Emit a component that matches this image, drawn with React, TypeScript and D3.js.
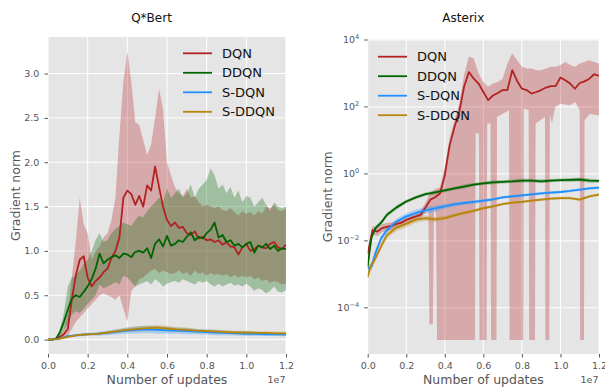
import React, { useEffect, useRef } from "react";
import * as d3 from "d3";

const seriesNames = ["DQN", "DDQN", "S-DQN", "S-DDQN"];
const seriesColors = ["#b22222", "#006400", "#1e90ff", "#b8860b"];
const xTicks = [0, 0.2, 0.4, 0.6, 0.8, 1.0, 1.2]; // number of updates, x 1e7

// ---- Q*Bert (updates in units of 1e7) ----
const qbertSteps = d3.range(61).map(i => i * 0.02);
const qbertDqn = [
  0.0, 0.0, 0.01, 0.03, 0.06, 0.12, 0.45, 0.72, 0.9, 0.94,
  0.7, 0.6, 0.66, 0.7, 0.76, 0.8, 0.92, 1.0, 1.15, 1.6,
  1.68, 1.64, 1.52, 1.62, 1.5, 1.74, 1.68, 1.95, 1.72, 1.5,
  1.35, 1.28, 1.32, 1.26, 1.27, 1.2, 1.18, 1.22, 1.14, 1.16,
  1.12, 1.13, 1.1, 1.12, 1.07, 1.1, 1.05, 1.04, 0.96, 1.04,
  1.08, 1.0, 1.02, 1.06, 1.04, 1.03, 1.08, 1.1, 1.04, 1.02, 1.07,
];
const qbertDqnHi = [
  0.0, 0.0, 0.02, 0.05, 0.1, 0.3, 0.7, 1.1, 1.6, 1.3,
  1.2, 0.9, 1.0, 1.05, 1.15, 1.2, 1.35, 1.6, 2.3, 2.9,
  3.25, 2.9, 2.45, 2.42, 2.25, 2.08, 2.2, 2.5, 2.83, 2.6,
  2.0, 1.85, 1.72, 1.65, 1.62, 1.7, 1.6, 1.62, 1.55, 1.5,
  1.52, 1.5, 1.48, 1.5, 1.46, 1.45, 1.48, 1.44, 1.4, 1.45,
  1.42, 1.44, 1.4, 1.45, 1.42, 1.5, 1.48, 1.52, 1.46, 1.45, 1.48,
];
const qbertDqnLo = [
  0.0, 0.0, 0.0, 0.01, 0.02, 0.04, 0.12, 0.2, 0.25, 0.3,
  0.35, 0.4, 0.45, 0.5, 0.52, 0.5, 0.48, 0.45, 0.5, 0.35,
  0.2, 0.55, 0.6, 0.68, 0.7, 0.74, 0.78, 0.8, 0.75, 0.78,
  0.76, 0.74, 0.75, 0.78, 0.74, 0.76, 0.72, 0.78, 0.74, 0.76,
  0.72, 0.75, 0.73, 0.74, 0.72, 0.74, 0.7, 0.73, 0.7, 0.72,
  0.7, 0.72, 0.68, 0.7, 0.66, 0.68, 0.64, 0.66, 0.65, 0.62, 0.63,
];
const qbertDdqn = [
  0.0, 0.0, 0.01, 0.08, 0.2, 0.34, 0.46, 0.5, 0.48, 0.54,
  0.6, 0.68, 0.8, 0.97, 0.86, 0.9, 0.93, 0.95, 0.92, 0.97,
  0.96, 0.93, 0.99, 1.0, 0.98, 1.03, 0.92, 1.08, 1.13, 1.05,
  1.17, 1.06, 1.08, 1.12, 1.1, 1.16, 1.21, 1.12, 1.16, 1.14,
  1.2, 1.24, 1.32, 1.15, 1.18, 1.1, 1.12, 1.06, 1.08, 1.04,
  1.08, 1.1, 0.98, 1.06, 1.04, 1.08, 1.02, 1.06, 1.0, 1.03, 1.02,
];
const qbertDdqnHi = [
  0.0, 0.0, 0.02, 0.12, 0.3, 0.6, 0.7, 0.72, 0.78, 0.85,
  0.9, 1.0, 1.12, 1.2, 1.1, 1.12, 1.2, 1.25, 1.28, 1.32,
  1.3, 1.28, 1.35, 1.4, 1.38, 1.45, 1.5, 1.55, 1.6, 1.55,
  1.7, 1.6, 1.65, 1.7, 1.6, 1.65, 1.75, 1.6, 1.7, 1.75,
  1.8, 1.93, 1.85, 1.7, 1.75, 1.65, 1.72, 1.6, 1.68, 1.55,
  1.62, 1.6, 1.5, 1.55, 1.6, 1.52, 1.45, 1.55, 1.5, 1.48, 1.5,
];
const qbertDdqnLo = [
  0.0, 0.0, 0.0, 0.03, 0.1, 0.18, 0.28, 0.32, 0.3, 0.35,
  0.4, 0.45, 0.5, 0.62, 0.58, 0.6, 0.62, 0.65, 0.62, 0.72,
  0.7, 0.65, 0.6, 0.62, 0.64, 0.66, 0.62, 0.68, 0.65, 0.6,
  0.63, 0.65, 0.66, 0.64, 0.68, 0.66, 0.64, 0.62, 0.66, 0.64,
  0.66, 0.62, 0.6, 0.63, 0.6, 0.62, 0.64, 0.61, 0.62, 0.6,
  0.63, 0.6, 0.55, 0.58, 0.56, 0.52, 0.55, 0.6, 0.54, 0.53, 0.56,
];
const qbertSmallSteps = d3.range(25).map(i => i * 0.05);
const qbertSDqn = [0, 0.005, 0.04, 0.05, 0.06, 0.065, 0.075, 0.09, 0.1, 0.11, 0.115, 0.11, 0.105, 0.1, 0.095, 0.09, 0.085, 0.08, 0.075, 0.07, 0.065, 0.065, 0.06, 0.06, 0.055];
const qbertSDqnSpread = [0, 0.005, 0.01, 0.015, 0.015, 0.02, 0.025, 0.03, 0.035, 0.04, 0.04, 0.04, 0.04, 0.035, 0.035, 0.03, 0.03, 0.03, 0.025, 0.025, 0.025, 0.025, 0.02, 0.02, 0.02];
const qbertSDdqn = [0, 0.005, 0.03, 0.05, 0.06, 0.065, 0.08, 0.095, 0.11, 0.12, 0.13, 0.135, 0.125, 0.115, 0.11, 0.1, 0.095, 0.09, 0.085, 0.08, 0.08, 0.075, 0.075, 0.07, 0.07];
const qbertSDdqnSpread = [0, 0.005, 0.01, 0.01, 0.01, 0.015, 0.015, 0.02, 0.025, 0.03, 0.03, 0.03, 0.03, 0.025, 0.025, 0.02, 0.02, 0.02, 0.02, 0.02, 0.02, 0.02, 0.02, 0.02, 0.02];
const qbertYTicks = [0, 0.5, 1.0, 1.5, 2.0, 2.5, 3.0];

// ---- Asterix ----
const asterixDqnSteps = d3.range(49).map(i => i * 0.025);
const asterixDqn = [
  0.004, 0.021, 0.019, 0.024, 0.026, 0.028, 0.032, 0.035, 0.042, 0.048,
  0.054, 0.06, 0.1, 0.17, 0.2, 0.26, 0.9, 7, 25, 70,
  400, 1100, 700, 500, 280, 160, 220, 260, 320, 320,
  1250, 600, 350, 320, 250, 280, 320, 380, 420, 420,
  760, 630, 500, 350, 520, 580, 700, 950, 850,
];
const asterixDqnHi = [
  0.0056, 0.028, 0.025, 0.032, 0.034, 0.036, 0.04, 0.045, 0.052, 0.06,
  0.068, 0.08, 0.14, 0.28, 0.35, 0.4, 1.6, 12, 40, 125,
  900, 3200, 2800, 1000, 560, 400, 500, 560, 700, 2000,
  4000, 2500, 1600, 1400, 1400, 1250, 1250, 1400, 1600, 1600,
  1800, 2200, 1800, 1600, 2000, 2200, 2500, 2200, 2000,
];
const asterixDqnLoSteps = [
  0, 0.025, 0.05, 0.075, 0.1, 0.125, 0.15, 0.175, 0.2, 0.225, 0.25, 0.275, 0.3,
  0.315, 0.32, 0.338, 0.344, 0.354, 0.36,
  0.557, 0.56, 0.577, 0.58, 0.617, 0.62, 0.637, 0.64, 0.668, 0.671, 0.733, 0.736,
  0.807, 0.81, 0.835, 0.838, 0.868, 0.871, 0.92, 0.922, 0.942, 0.945, 0.956, 0.972,
  1.0, 1.05, 1.076, 1.1, 1.102, 1.122, 1.125, 1.153, 1.2,
];
const asterixDqnLo = [
  0.0028, 0.016, 0.014, 0.018, 0.02, 0.021, 0.024, 0.027, 0.032, 0.036, 0.042, 0.047, 0.071,
  0.1, 3.2e-5, 3.2e-5, 0.1, 0.063, 1.1e-5,
  1.1e-5, 16, 16, 1.1e-5, 1.1e-5, 32, 32, 1.1e-5, 1.1e-5, 50, 80, 1.1e-5,
  1.1e-5, 90, 80, 1.1e-5, 1.1e-5, 32, 50, 1.1e-5, 1.1e-5, 63, 32, 100,
  125, 112, 140, 80, 1.1e-5, 1.1e-5, 40, 63, 56,
];
const asterixSteps = [0, 0.01, 0.02, 0.04, 0.07, 0.1, 0.15, 0.2, 0.25, 0.3, 0.35, 0.4, 0.45, 0.5, 0.55, 0.6, 0.65, 0.7, 0.75, 0.8, 0.85, 0.9, 0.95, 1.0, 1.05, 1.1, 1.15, 1.2];
const asterixDdqn = [0.0017, 0.005, 0.0126, 0.024, 0.035, 0.06, 0.1, 0.15, 0.2, 0.25, 0.28, 0.32, 0.37, 0.42, 0.48, 0.52, 0.56, 0.58, 0.6, 0.63, 0.63, 0.6, 0.63, 0.65, 0.66, 0.68, 0.63, 0.62];
const asterixDdqnSpread = [0.12, 0.1, 0.08, 0.07, 0.06, 0.06, 0.06, 0.05, 0.05, 0.05, 0.06, 0.05, 0.05, 0.06, 0.05, 0.05, 0.06, 0.05, 0.05, 0.06, 0.05, 0.06, 0.05, 0.05, 0.06, 0.05, 0.06, 0.05];
const asterixSDqn = [0.0015, 0.0016, 0.0017, 0.0043, 0.012, 0.021, 0.038, 0.054, 0.068, 0.081, 0.093, 0.107, 0.123, 0.135, 0.145, 0.158, 0.174, 0.2, 0.214, 0.229, 0.245, 0.263, 0.275, 0.288, 0.309, 0.339, 0.372, 0.389];
const asterixSDqnSpread = [0.1, 0.1, 0.1, 0.09, 0.08, 0.08, 0.08, 0.09, 0.1, 0.1, 0.09, 0.07, 0.06, 0.05, 0.05, 0.05, 0.04, 0.04, 0.04, 0.04, 0.04, 0.04, 0.04, 0.04, 0.04, 0.04, 0.04, 0.04];
const asterixSDdqn = [0.00085, 0.0014, 0.0019, 0.003, 0.0071, 0.0148, 0.025, 0.032, 0.043, 0.048, 0.044, 0.048, 0.058, 0.068, 0.079, 0.095, 0.107, 0.126, 0.138, 0.145, 0.158, 0.17, 0.182, 0.19, 0.19, 0.17, 0.214, 0.24];
const asterixSDdqnSpread = [0.12, 0.12, 0.12, 0.1, 0.1, 0.1, 0.1, 0.1, 0.09, 0.08, 0.07, 0.06, 0.05, 0.05, 0.05, 0.05, 0.04, 0.04, 0.04, 0.04, 0.04, 0.04, 0.04, 0.04, 0.04, 0.04, 0.04, 0.04];
const asterixYExps = [-4, -2, 0, 2, 4];

const FONT = "DejaVu Sans, sans-serif";
const GREY = "#555555";

const sym = (m, s) => ({ lo: m.map((v, i) => v - s[i]), hi: m.map((v, i) => v + s[i]) });
const logSym = (m, s) => ({ lo: m.map((v, i) => v / 10 ** s[i]), hi: m.map((v, i) => v * 10 ** s[i]) });

const qS = sym(qbertSDqn, qbertSDqnSpread);
const qSD = sym(qbertSDdqn, qbertSDdqnSpread);
const aD = logSym(asterixDdqn, asterixDdqnSpread);
const aS = logSym(asterixSDqn, asterixSDqnSpread);
const aSD = logSym(asterixSDdqn, asterixSDdqnSpread);

const panels = [
  {
    id: "qbert", title: "Q*Bert", titleX: 151.5, left: 48, right: 286, top: 37, bottom: 354,
    log: false, yDomain: [-0.1625, 3.4125], yLabelX: 15.5, legend: { x: 183, y: 53.3 },
    series: [
      { xs: qbertSteps, mean: qbertDqn, hiX: qbertSteps, hi: qbertDqnHi, loX: qbertSteps, lo: qbertDqnLo },
      { xs: qbertSteps, mean: qbertDdqn, hiX: qbertSteps, hi: qbertDdqnHi, loX: qbertSteps, lo: qbertDdqnLo },
      { xs: qbertSmallSteps, mean: qbertSDqn, hiX: qbertSmallSteps, hi: qS.hi, loX: qbertSmallSteps, lo: qS.lo },
      { xs: qbertSmallSteps, mean: qbertSDdqn, hiX: qbertSmallSteps, hi: qSD.hi, loX: qbertSmallSteps, lo: qSD.lo },
    ],
  },
  {
    id: "asterix", title: "Asterix", titleX: 463.3, left: 367.7, right: 599, top: 39.5, bottom: 354,
    log: true, yDomain: [10 ** -5.38, 10 ** 4.015], yLabelX: 327.5, legend: { x: 378, y: 56.7 },
    series: [
      { xs: asterixDqnSteps, mean: asterixDqn, hiX: asterixDqnSteps, hi: asterixDqnHi, loX: asterixDqnLoSteps, lo: asterixDqnLo },
      { xs: asterixSteps, mean: asterixDdqn, hiX: asterixSteps, hi: aD.hi, loX: asterixSteps, lo: aD.lo },
      { xs: asterixSteps, mean: asterixSDqn, hiX: asterixSteps, hi: aS.hi, loX: asterixSteps, lo: aS.lo },
      { xs: asterixSteps, mean: asterixSDdqn, hiX: asterixSteps, hi: aSD.hi, loX: asterixSteps, lo: aSD.lo },
    ],
  },
];

function drawPanel(svg, p) {
  const x = d3.scaleLinear().domain([0, 1.2]).range([p.left, p.right]);
  const y = (p.log ? d3.scaleLog() : d3.scaleLinear()).domain(p.yDomain).range([p.bottom, p.top]);
  const g = svg.append("g");

  g.append("rect")
    .attr("x", p.left).attr("y", p.top)
    .attr("width", p.right - p.left).attr("height", p.bottom - p.top)
    .attr("fill", "#e5e5e5");

  const yTickVals = p.log ? asterixYExps.map(e => 10 ** e) : qbertYTicks;

  // grid
  g.selectAll(".gx").data(xTicks).enter().append("line")
    .attr("x1", d => x(d)).attr("x2", d => x(d))
    .attr("y1", p.top).attr("y2", p.bottom)
    .attr("stroke", "white").attr("stroke-width", 1);
  g.selectAll(".gy").data(yTickVals).enter().append("line")
    .attr("x1", p.left).attr("x2", p.right)
    .attr("y1", d => y(d)).attr("y2", d => y(d))
    .attr("stroke", "white").attr("stroke-width", 1);

  svg.append("clipPath").attr("id", "clip-" + p.id)
    .append("rect")
    .attr("x", p.left).attr("y", p.top)
    .attr("width", p.right - p.left).attr("height", p.bottom - p.top);
  const plot = g.append("g").attr("clip-path", `url(#clip-${p.id})`);

  const line = d3.line().x(d => x(d[0])).y(d => y(d[1]));

  // bands
  p.series.forEach((s, k) => {
    const upper = s.hiX.map((u, i) => [u, s.hi[i]]);
    const lower = s.loX.map((u, i) => [u, s.lo[i]]).reverse();
    plot.append("path")
      .attr("d", line(upper.concat(lower)) + "Z")
      .attr("fill", seriesColors[k])
      .attr("fill-opacity", 0.3)
      .attr("stroke", "none");
  });
  // mean lines
  p.series.forEach((s, k) => {
    plot.append("path")
      .attr("d", line(s.xs.map((u, i) => [u, s.mean[i]])))
      .attr("fill", "none")
      .attr("stroke", seriesColors[k])
      .attr("stroke-width", 1.8)
      .attr("stroke-linejoin", "round");
  });

  // x axis
  const xAxis = g.append("g")
    .attr("transform", `translate(0,${p.bottom})`)
    .call(d3.axisBottom(x).tickValues(xTicks).tickSize(3.5).tickPadding(4.8).tickFormat(d3.format(".1f")));
  xAxis.select(".domain").remove();
  xAxis.selectAll("line").attr("stroke", GREY);
  xAxis.selectAll("text").attr("fill", GREY).style("font-size", "9.5px").style("font-family", FONT);

  // y axis
  if (!p.log) {
    const yAxis = g.append("g")
      .attr("transform", `translate(${p.left},0)`)
      .call(d3.axisLeft(y).tickValues(yTickVals).tickSize(3.5).tickPadding(5.2).tickFormat(d3.format(".1f")));
    yAxis.select(".domain").remove();
    yAxis.selectAll("line").attr("stroke", GREY);
    yAxis.selectAll("text").attr("fill", GREY).style("font-size", "9.5px").style("font-family", FONT);
  } else {
    const ya = g.append("g");
    asterixYExps.forEach(e => {
      const yy = y(10 ** e);
      ya.append("line")
        .attr("x1", p.left - 3.5).attr("x2", p.left)
        .attr("y1", yy).attr("y2", yy)
        .attr("stroke", GREY);
      const t = ya.append("text")
        .attr("x", p.left - 8.4).attr("y", yy + 3.2)
        .attr("text-anchor", "end")
        .attr("fill", GREY)
        .style("font-family", FONT);
      t.append("tspan").style("font-size", "9.5px").text("10");
      t.append("tspan").attr("dy", -4.5).style("font-size", "6.7px")
        .text(e < 0 ? "\u2212" + Math.abs(e) : String(e));
    });
  }

  // labels
  g.append("text")
    .attr("x", (p.left + p.right) / 2).attr("y", 383.5)
    .attr("text-anchor", "middle").attr("fill", GREY)
    .style("font-family", FONT).style("font-size", "12.5px")
    .text("Number of updates");
  g.append("text")
    .attr("x", p.right - 0.5).attr("y", 382.5)
    .attr("text-anchor", "end").attr("fill", GREY)
    .style("font-family", FONT).style("font-size", "9.5px")
    .text("1e7");
  g.append("text")
    .attr("transform", `translate(${p.yLabelX},${(p.top + p.bottom) / 2}) rotate(-90)`)
    .attr("dy", "0.35em")
    .attr("text-anchor", "middle").attr("fill", GREY)
    .style("font-family", FONT).style("font-size", "12.5px")
    .text("Gradient norm");
  g.append("text")
    .attr("x", p.titleX).attr("y", 21.5)
    .attr("text-anchor", "middle").attr("fill", "#111")
    .style("font-family", FONT).style("font-size", "12px")
    .text(p.title);

  // legend
  const lg = g.append("g");
  seriesNames.forEach((name, k) => {
    const ly = p.legend.y + k * 19.5;
    lg.append("line")
      .attr("x1", p.legend.x).attr("x2", p.legend.x + 29)
      .attr("y1", ly).attr("y2", ly)
      .attr("stroke", seriesColors[k]).attr("stroke-width", 1.8);
    lg.append("text")
      .attr("x", p.legend.x + 39).attr("y", ly).attr("dy", "0.36em")
      .attr("fill", "#111")
      .style("font-family", FONT).style("font-size", "13px")
      .text(name);
  });
}

const App = () => {
  const svgRef = useRef(null);

  useEffect(() => {
    const svg = d3.select(svgRef.current);
    svg.selectAll("*").remove();
    svg.attr("width", 605).attr("height", 387);
    svg.append("rect").attr("width", 605).attr("height", 387).attr("fill", "white");
    panels.forEach(p => drawPanel(svg, p));
  }, []);

  return <svg ref={svgRef} style={{ position: "absolute", left: 0, top: 0, display: "block" }} />;
};

export default App;
